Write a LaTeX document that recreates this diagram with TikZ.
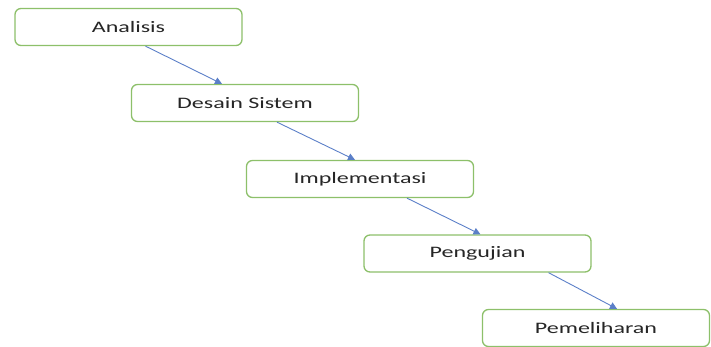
\documentclass[tikz,border=0pt]{standalone}
\usepackage{fontspec}
\setmainfont{Carlito}
\usetikzlibrary{calc,arrows.meta}
\definecolor{boxgreen}{HTML}{8DC06A}
\definecolor{arrowblue}{HTML}{5B7FC8}
\definecolor{txt}{HTML}{262626}
\tikzset{
  stage/.style={draw=boxgreen, line width=1.3pt, rounded corners=6pt, fill=white,
    minimum width=227pt, minimum height=37pt, inner sep=0pt, text=txt,
    font=\fontsize{16pt}{18pt}\selectfont},
  flow/.style={draw=arrowblue, line width=0.9pt, -{Triangle[length=7pt,width=7pt]}}
}
\newcommand{\wide}[1]{\scalebox{1.5}[1]{#1}}
\begin{document}
\begin{tikzpicture}[x=1pt,y=-1pt]
\useasboundingbox (0,0) rectangle (711,347);
\node[stage] (a) at (128.5,27) {\wide{Analisis}};
\node[stage] (b) at (245,103) {\wide{Desain Sistem}};
\node[stage] (c) at (360,179) {\wide{Implementasi}};
\node[stage] (d) at (477.5,253.5) {\wide{Pengujian}};
\node[stage] (e) at (596,328) {\wide{Pemeliharan}};
\draw[flow] ($(a.south)+(17,0)$) -- ($(b.north)+(-23,0)$);
\draw[flow] ($(b.south)+(32,0)$) -- ($(c.north)+(-5,0)$);
\draw[flow] ($(c.south)+(47,0)$) -- ($(d.north)+(3,0)$);
\draw[flow] ($(d.south)+(71,0)$) -- ($(e.north)+(21,0)$);
\end{tikzpicture}
\end{document}
